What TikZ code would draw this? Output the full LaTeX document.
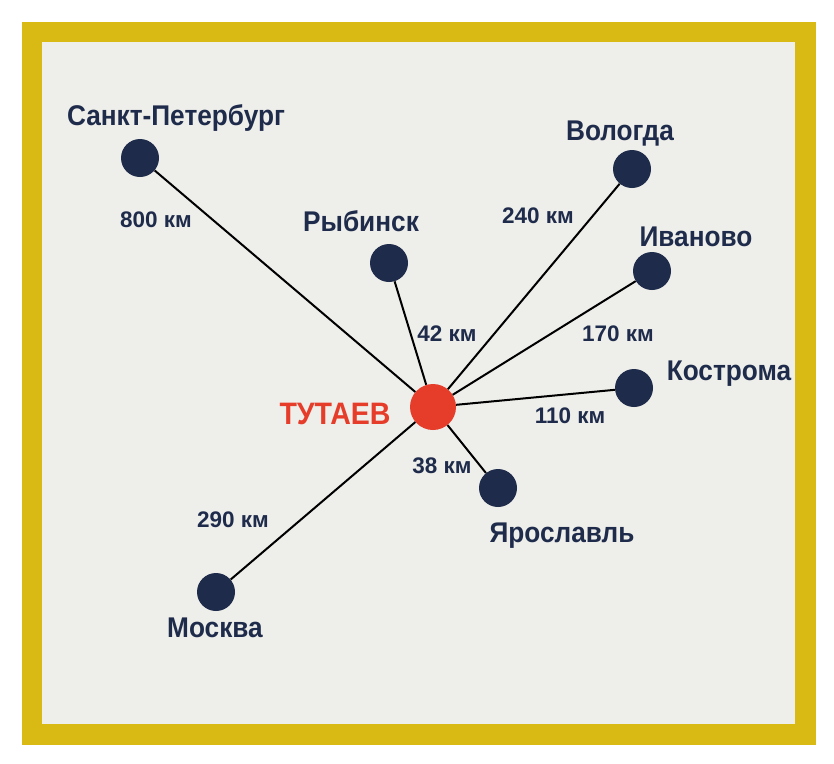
\documentclass[tikz,border=0pt]{standalone}
\usepackage{fontspec}
\newfontfamily\mapfont[FakeStretch=0.92]{Liberation Sans}
\newfontfamily\distfont{Liberation Sans}
\definecolor{framegold}{HTML}{D9B914}
\definecolor{paper}{HTML}{EEEEEA}
\definecolor{navy}{HTML}{1E2B4B}
\definecolor{townred}{HTML}{E63C2A}
\tikzset{
  city/.style={circle,fill=navy,minimum size=38pt,inner sep=0pt},
  home/.style={circle,fill=townred,minimum size=46pt,inner sep=0pt},
  cityname/.style={anchor=base,inner sep=0pt,text=navy,
    font=\mapfont\bfseries\fontsize{28.5}{28.5}\selectfont},
  homename/.style={anchor=base,inner sep=0pt,text=townred,
    font=\mapfont\bfseries\fontsize{31}{31}\selectfont},
  dist/.style={anchor=base,inner sep=0pt,text=navy,
    font=\distfont\bfseries\fontsize{22.5}{22.5}\selectfont},
  road/.style={line width=2pt,black}
}
\begin{document}
\begin{tikzpicture}[x=1pt,y=-1pt]
  \useasboundingbox (0,0) rectangle (834,763);
  \fill[white] (0,0) rectangle (834,763);
  \fill[framegold] (22,22) rectangle (816,745);
  \fill[paper] (42,42) rectangle (795,724);

  \node[home] (tutaev) at (433,407) {};
  \node[city] (spb) at (140,158) {};
  \node[city] (rybinsk) at (389,263) {};
  \node[city] (vologda) at (632,169) {};
  \node[city] (ivanovo) at (652,271) {};
  \node[city] (kostroma) at (634,388) {};
  \node[city] (yaroslavl) at (498,488) {};
  \node[city] (moskva) at (216,592) {};

  \foreach \c in {spb,rybinsk,vologda,ivanovo,kostroma,yaroslavl,moskva}
    \draw[road] (tutaev) -- (\c);

  \node[homename] (tutaevname) at (335,424) {ТУТАЕВ};
  \node[cityname] (spbname) at (176,125) {Санкт-Петербург};
  \node[cityname] (rybinskname) at (361,231) {Рыбинск};
  \node[cityname] (vologdaname) at (620,140) {Вологда};
  \node[cityname] (ivanovoname) at (696,246) {Иваново};
  \node[cityname] (kostromaname) at (729,380) {Кострома};
  \node[cityname] (yaroslavlname) at (562,542) {Ярославль};
  \node[cityname] (moskvaname) at (215,637) {Москва};

  \node[dist] (spbdist) at (156,227) {800 км};
  \node[dist] (vologdadist) at (538,223) {240 км};
  \node[dist] (rybinskdist) at (447,341) {42 км};
  \node[dist] (ivanovodist) at (618,341) {170 км};
  \node[dist] (kostromadist) at (570,423) {110 км};
  \node[dist] (yaroslavldist) at (442,473) {38 км};
  \node[dist] (moskvadist) at (233,527) {290 км};
\end{tikzpicture}
\end{document}
